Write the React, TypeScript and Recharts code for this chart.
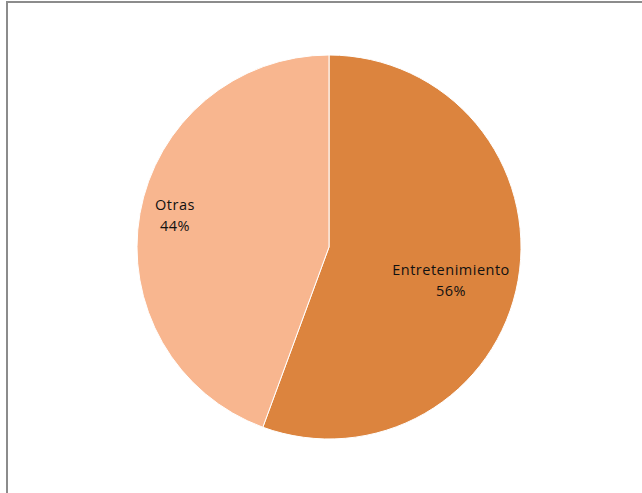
import React from 'react';
import { PieChart, Pie, Cell } from 'recharts';

const categories = ['Entretenimiento', 'Otras'];
const values = [55.6, 44.4];
const colors = ['#DC843E', '#F8B68F'];
// label placement inside each slice (Excel "best fit")
const labelRadiusRatio = [0.658, 0.819];
const labelAngleShift = [-4.9, -1.5];

const data = categories.map((name, i) => ({ name, value: values[i] }));
const total = values.reduce((a, b) => a + b, 0);

const RADIAN = Math.PI / 180;

const renderLabel = (props: any) => {
  const { cx, cy, midAngle, outerRadius, index } = props;
  const r = outerRadius * labelRadiusRatio[index];
  const ang = midAngle + labelAngleShift[index];
  const x = cx + r * Math.cos(-ang * RADIAN);
  const y = cy + r * Math.sin(-ang * RADIAN);
  const pct = `${Math.round((values[index] / total) * 100)}%`;
  return (
    <text
      x={x}
      y={y}
      textAnchor="middle"
      fill="#111"
      fontFamily="'Open Sans', 'Liberation Sans', sans-serif"
      fontSize={14.5}
      letterSpacing={0.5}
    >
      <tspan x={x} dy={-5}>{categories[index]}</tspan>
      <tspan x={x} dy={21}>{pct}</tspan>
    </text>
  );
};

export default function App() {
  return (
    <div
      style={{
        position: 'absolute',
        left: 0,
        top: 0,
        width: 642,
        height: 493,
        overflow: 'hidden',
        background: '#fff',
      }}
    >
      <div
        style={{
          position: 'absolute',
          left: 6,
          top: 1,
          width: 700,
          height: 600,
          borderLeft: '2px solid #8c8c8c',
          borderTop: '2px solid #8c8c8c',
        }}
      />
      <div style={{ position: 'absolute', left: 0, top: 0 }}>
        <PieChart width={642} height={493} margin={{ top: 0, right: 0, bottom: 0, left: 0 }}>
          <Pie
            data={data}
            dataKey="value"
            cx={329}
            cy={247}
            outerRadius={192}
            startAngle={90}
            endAngle={-270}
            stroke="#ffffff"
            strokeWidth={1}
            label={renderLabel}
            labelLine={false}
            isAnimationActive={false}
          >
            {data.map((d, i) => (
              <Cell key={d.name} fill={colors[i]} />
            ))}
          </Pie>
        </PieChart>
      </div>
    </div>
  );
}
